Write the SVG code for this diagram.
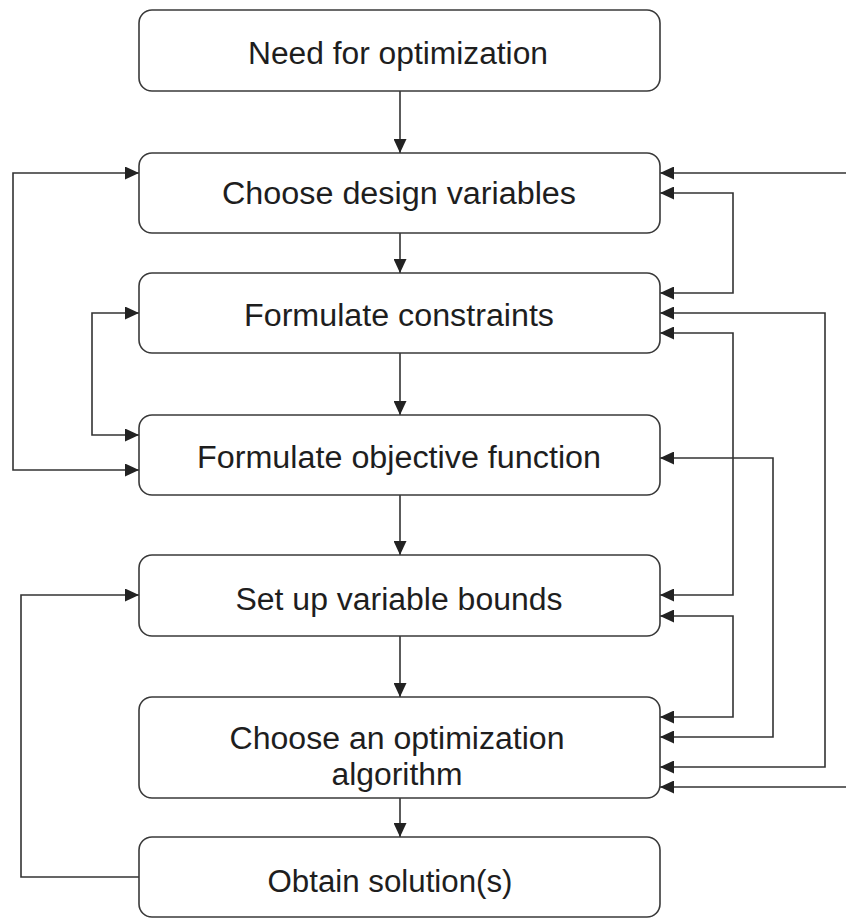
<svg xmlns="http://www.w3.org/2000/svg" width="846" height="918" viewBox="0 0 846 918">
<style>
.box{fill:#ffffff;stroke:#3a3a3a;stroke-width:1.6}
.lbl{font-family:"Liberation Sans",Arial,sans-serif;font-size:31px;fill:#1e1e1e;text-anchor:middle}
.c{fill:none;stroke:#333333;stroke-width:1.6}
</style>
<defs>
<marker id="ah" markerUnits="userSpaceOnUse" markerWidth="15" markerHeight="13" refX="14" refY="6.5" orient="auto-start-reverse">
<path d="M0,0 L14,6.5 L0,13 z" fill="#222222"/>
</marker>
</defs>
<rect x="0" y="0" width="846" height="918" fill="#ffffff"/>
<g id="connectors">
<line class="c" x1="400" y1="91" x2="400" y2="153" marker-end="url(#ah)"/>
<line class="c" x1="400" y1="233" x2="400" y2="273" marker-end="url(#ah)"/>
<line class="c" x1="400" y1="353" x2="400" y2="415" marker-end="url(#ah)"/>
<line class="c" x1="400" y1="495" x2="400" y2="555" marker-end="url(#ah)"/>
<line class="c" x1="400" y1="636" x2="400" y2="697" marker-end="url(#ah)"/>
<line class="c" x1="400" y1="798" x2="400" y2="837" marker-end="url(#ah)"/>
<polyline class="c" points="139,173 13,173 13,470 139,470" marker-start="url(#ah)" marker-end="url(#ah)"/>
<polyline class="c" points="139,313 92,313 92,435 139,435" marker-start="url(#ah)" marker-end="url(#ah)"/>
<polyline class="c" points="139,877 21,877 21,595 139,595" marker-end="url(#ah)"/>
<line class="c" x1="846" y1="173" x2="660" y2="173" marker-end="url(#ah)"/>
<polyline class="c" points="660,193 733,193 733,293 660,293" marker-start="url(#ah)" marker-end="url(#ah)"/>
<polyline class="c" points="660,313 825,313 825,767 660,767" marker-start="url(#ah)" marker-end="url(#ah)"/>
<polyline class="c" points="660,333 733,333 733,595 660,595" marker-start="url(#ah)" marker-end="url(#ah)"/>
<polyline class="c" points="660,458 773,458 773,737 660,737" marker-start="url(#ah)" marker-end="url(#ah)"/>
<polyline class="c" points="660,616 733,616 733,717 660,717" marker-start="url(#ah)" marker-end="url(#ah)"/>
<line class="c" x1="846" y1="787" x2="660" y2="787" marker-end="url(#ah)"/>
</g>
<g id="n1"><rect class="box" x="139" y="10" width="521" height="81" rx="13"/><text class="lbl" x="398" y="64" textLength="300" lengthAdjust="spacingAndGlyphs">Need for optimization</text></g>
<g id="n2"><rect class="box" x="139" y="153" width="521" height="80" rx="13"/><text class="lbl" x="399" y="204" textLength="354" lengthAdjust="spacingAndGlyphs">Choose design variables</text></g>
<g id="n3"><rect class="box" x="139" y="273" width="521" height="80" rx="13"/><text class="lbl" x="399" y="326" textLength="310" lengthAdjust="spacingAndGlyphs">Formulate constraints</text></g>
<g id="n4"><rect class="box" x="139" y="415" width="521" height="80" rx="13"/><text class="lbl" x="399" y="468" textLength="404" lengthAdjust="spacingAndGlyphs">Formulate objective function</text></g>
<g id="n5"><rect class="box" x="139" y="555" width="521" height="81" rx="13"/><text class="lbl" x="399" y="610" textLength="327" lengthAdjust="spacingAndGlyphs">Set up variable bounds</text></g>
<g id="n6"><rect class="box" x="139" y="697" width="521" height="101" rx="13"/><text class="lbl" x="397" y="749" textLength="335" lengthAdjust="spacingAndGlyphs">Choose an optimization</text><text class="lbl" x="397" y="785" textLength="131" lengthAdjust="spacingAndGlyphs">algorithm</text></g>
<g id="n7"><rect class="box" x="139" y="837" width="521" height="80" rx="13"/><text class="lbl" x="390" y="892" textLength="245" lengthAdjust="spacingAndGlyphs">Obtain solution(s)</text></g>
</svg>
